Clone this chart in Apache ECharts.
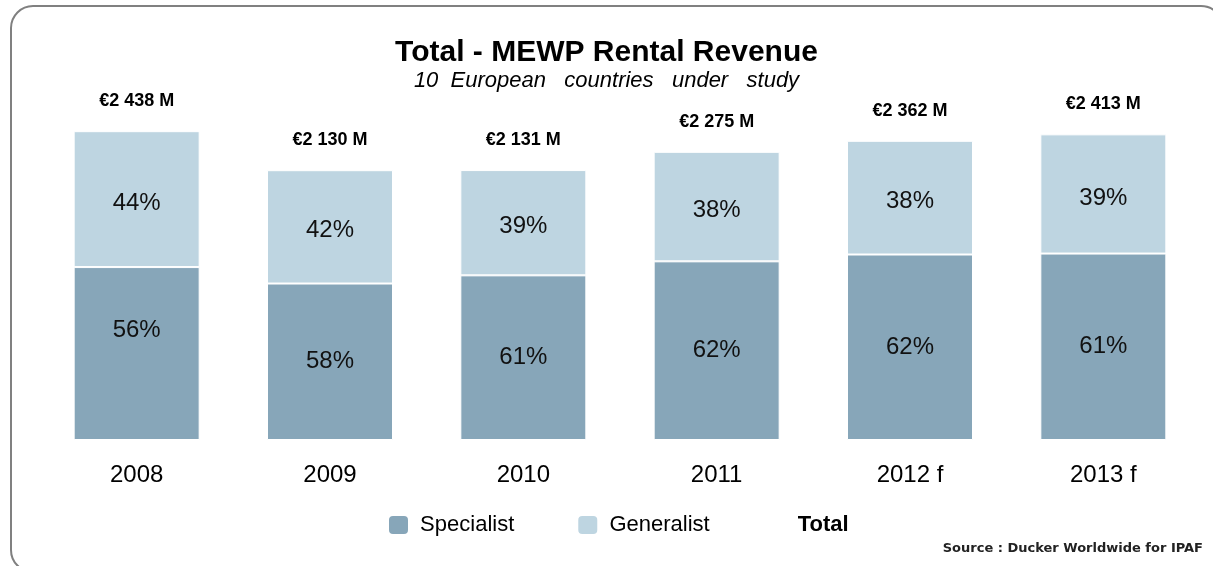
<!DOCTYPE html>
<html>
<head>
<meta charset="utf-8">
<title>Total - MEWP Rental Revenue</title>
<script src="https://cdn.jsdelivr.net/npm/echarts@6/dist/echarts.min.js"></script>
<style>
  html, body { margin: 0; padding: 0; background: #fff; }
  #chart { width: 1213px; height: 566px; }
</style>
</head>
<body>
<div id="chart"></div>
<script>
// years on the x axis
const years = ['2008', '2009', '2010', '2011', '2012 f', '2013 f']
// total revenue, million euro
const totals = [2438, 2130, 2131, 2275, 2362, 2413]
// share of each segment, percent
const specialistPct = [56, 58, 61, 62, 62, 61]
const generalistPct = [44, 42, 39, 38, 38, 39]

const chart = echarts.init(document.getElementById('chart'))

const specialistVals = totals.map((t, i) => t * specialistPct[i] / 100)
const generalistVals = totals.map((t, i) => t * generalistPct[i] / 100)

const fmtTotal = v => '€' + String(v).replace(/\B(?=(\d{3})+(?!\d))/g, ' ') + ' M'

const font = '"Liberation Sans", Arial, sans-serif'

const option = {
  animation: false,
  textStyle: { fontFamily: font },
  title: {
    text: 'Total - MEWP Rental Revenue',
    subtext: '10  European   countries   under   study',
    left: 'center',
    top: 33,
    itemGap: 2,
    textStyle: { fontFamily: font, fontSize: 30, fontWeight: 'bold', color: '#000' },
    subtextStyle: { fontFamily: font, fontSize: 22, fontStyle: 'italic', color: '#000' }
  },
  legend: {
    bottom: 25,
    left: 382,
    itemWidth: 21,
    itemHeight: 20,
    itemGap: 62,
    textStyle: { fontFamily: font, fontSize: 22, color: '#000' },
    formatter: name => name === 'Total' ? name : ' ' + name,
    data: [
      { name: 'Specialist' },
      { name: 'Generalist' },
      { name: 'Total', icon: 'none', textStyle: { fontWeight: 'bold' } }
    ],
    selectedMode: false
  },
  grid: { left: 40, right: 13, top: 60, bottom: 126 },
  xAxis: {
    type: 'category',
    data: years,
    axisLine: { show: false },
    axisTick: { show: false },
    axisLabel: { fontFamily: font, fontSize: 24, color: '#000', margin: 23 }
  },
  yAxis: {
    type: 'value',
    min: 0,
    max: 3000,
    show: false
  },
  series: [
    {
      name: 'Specialist',
      type: 'bar',
      stack: 'total',
      barWidth: 126,
      itemStyle: { color: '#87A6B9', borderColor: '#fff', borderWidth: 1 },
      label: {
        show: true,
        position: 'inside',
        fontFamily: font,
        fontSize: 24,
        color: '#111',
        formatter: p => specialistPct[p.dataIndex] + '%'
      },
      data: specialistVals.map((v, i) => i === 0
        ? { value: v, label: { offset: [0, -23] } }
        : v)
    },
    {
      name: 'Generalist',
      type: 'bar',
      stack: 'total',
      barWidth: 126,
      itemStyle: { color: '#BED5E1', borderColor: '#fff', borderWidth: 1 },
      label: {
        show: true,
        position: 'inside',
        offset: [0, 4],
        fontFamily: font,
        fontSize: 24,
        color: '#111',
        formatter: p => generalistPct[p.dataIndex] + '%'
      },
      data: generalistVals
    },
    {
      name: 'Total',
      type: 'bar',
      stack: 'total',
      barWidth: 126,
      itemStyle: { color: 'transparent' },
      label: {
        show: true,
        position: 'top',
        distance: 21,
        fontFamily: font,
        fontSize: 18,
        fontWeight: 'bold',
        color: '#000',
        formatter: p => fmtTotal(totals[p.dataIndex])
      },
      data: totals.map(() => 0)
    }
  ],
  graphic: [
    {
      type: 'rect',
      shape: { x: 11, y: 6, width: 1212, height: 566, r: 22 },
      style: { fill: 'none', stroke: '#808080', lineWidth: 2 },
      silent: true
    },
    {
      type: 'text',
      right: 10,
      top: 542,
      style: {
        text: 'Source : Ducker Worldwide for IPAF',
        fontFamily: '"DejaVu Sans", sans-serif',
        fontSize: 13,
        fontWeight: 'bold',
        fill: '#222'
      }
    }
  ]
}

chart.setOption(option)
window.addEventListener('resize', () => chart.resize())
</script>
</body>
</html>
